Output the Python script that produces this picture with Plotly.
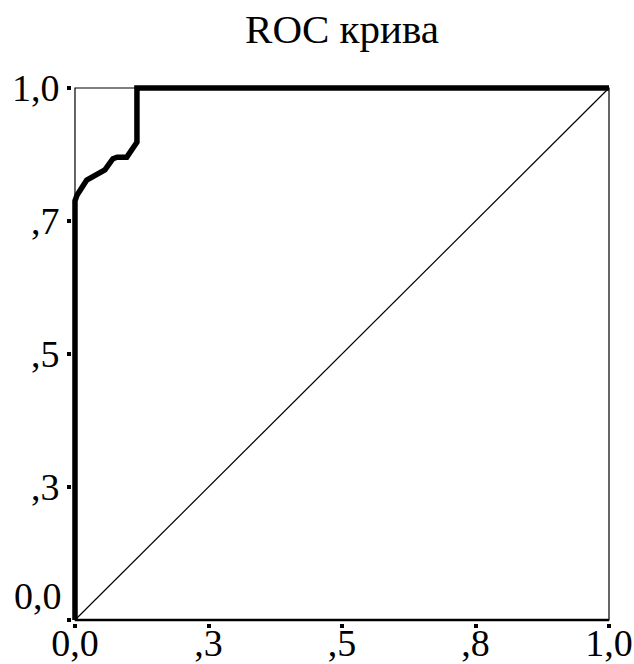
import plotly.graph_objects as go

# ROC curve points (false positive rate, true positive rate)
fpr = [0.0, 0.0, 0.004, 0.022, 0.056, 0.071, 0.079, 0.097, 0.116, 0.116, 1.0]
tpr = [0.0, 0.788, 0.799, 0.827, 0.846, 0.867, 0.870, 0.870, 0.898, 1.0, 1.0]

# reference (chance) line
ref_x = [0.0, 1.0]
ref_y = [0.0, 1.0]

tick_vals = [0.0, 0.25, 0.5, 0.75, 1.0]
x_tick_text = ["0,0", ",3", ",5", ",8", "1,0"]
y_tick_text = ["", ",3", ",5", ",7", "1,0"]
title_text = "ROC крива"

FONT = "Liberation Serif"
pad = 0.0056

fig = go.Figure()
fig.add_trace(go.Scatter(x=ref_x, y=ref_y, mode="lines",
                         line=dict(color="black", width=1.2), hoverinfo="skip"))
fig.add_trace(go.Scatter(x=fpr, y=tpr, mode="lines",
                         line=dict(color="black", width=5.5)))

# frame
fig.add_shape(type="rect", x0=0, y0=0, x1=1, y1=1, xref="x", yref="y",
              line=dict(color="black", width=1.2), layer="below")
fig.add_shape(type="line", x0=0, y0=0, x1=1, y1=0, xref="x", yref="y",
              line=dict(color="black", width=2.5))

# y "0,0" label shifted up as in the original
fig.add_annotation(x=-pad, y=0, xref="x", yref="y", text="0,0", showarrow=False,
                   xanchor="right", yanchor="middle", xshift=-8, yshift=24,
                   font=dict(family=FONT, size=38, color="black"))

fig.update_layout(
    width=634, height=664,
    margin=dict(l=72, r=22, t=85, b=41, autoexpand=False),
    paper_bgcolor="white", plot_bgcolor="white",
    showlegend=False,
    font=dict(family=FONT, color="black"),
    title=dict(text=title_text, x=0.5, xref="paper", xanchor="center",
               y=1 - 29 / 664, yref="container", yanchor="middle",
               automargin=False,
               font=dict(family=FONT, size=41, color="black")),
    xaxis=dict(range=[-pad, 1 + pad], tickmode="array", tickvals=tick_vals,
               ticktext=x_tick_text, ticks="outside", ticklen=4, tickwidth=4,
               tickcolor="black", showgrid=False, zeroline=False, showline=False,
               automargin=False, ticklabelstandoff=-18,
               tickfont=dict(family=FONT, size=38, color="black")),
    yaxis=dict(range=[-pad, 1 + pad], tickmode="array", tickvals=tick_vals,
               ticktext=y_tick_text, ticks="outside", ticklen=4, tickwidth=4,
               tickcolor="black", showgrid=False, zeroline=False, showline=False,
               automargin=False,
               tickfont=dict(family=FONT, size=38, color="black")),
)

fig.write_html("out.html", config={"displayModeBar": False},
               post_script="document.body.style.margin='0';document.body.style.overflow='hidden';")
